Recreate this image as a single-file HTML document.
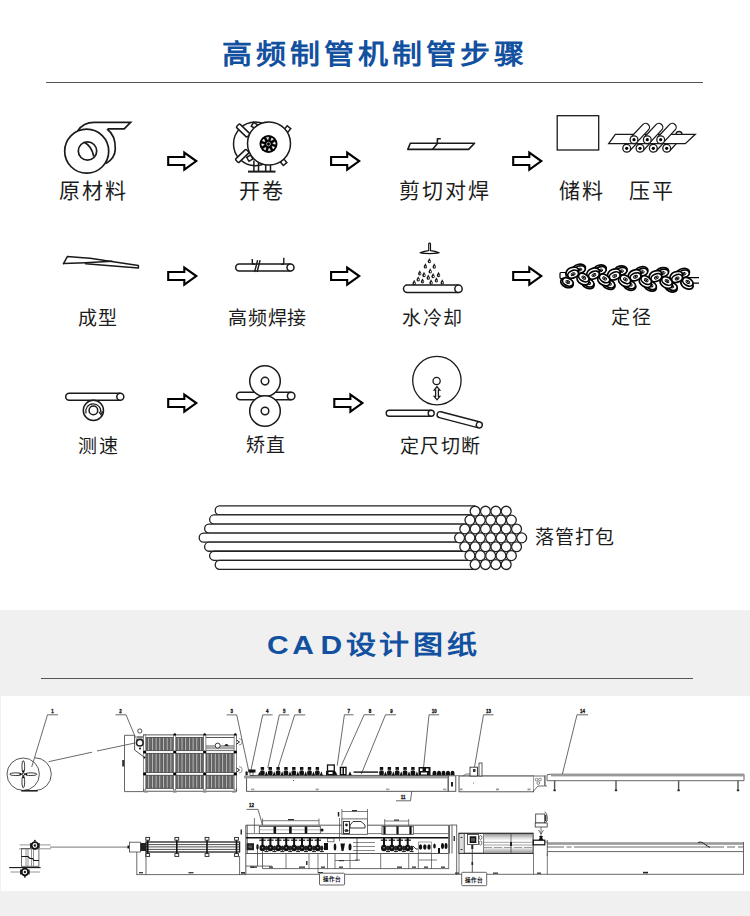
<!DOCTYPE html>
<html lang="zh-CN"><head><meta charset="utf-8">
<style>
html,body{margin:0;padding:0;}
body{width:750px;height:916px;position:relative;overflow:hidden;background:#fff;font-family:"Liberation Sans",sans-serif;color:#222;}
.t{position:absolute;white-space:nowrap;line-height:1;}
.l1{font-size:21px;color:#1c1c1c;letter-spacing:2px;}
.l2{font-size:19px;color:#1c1c1c;letter-spacing:1.5px;}
.h1{font-size:30px;font-weight:bold;color:#1250a0;letter-spacing:4px;transform:scaleY(0.92);transform-origin:0 0;}
.h2{font-size:30px;font-weight:bold;color:#1250a0;letter-spacing:3.6px;transform:scaleY(0.87);transform-origin:0 0;}
#gray{position:absolute;left:0;top:610px;width:750px;height:306px;background:#f0f0f0;}
#cad{position:absolute;left:1px;top:696px;width:749px;height:195px;background:#fff;}
svg{position:absolute;left:0;top:0;}
</style></head><body>
<svg width="750" height="610" viewBox="0 0 750 610"><path d="M168.2,157.0 L184.3,157.0 L184.3,152.6 L196.3,161.1 L184.3,169.6 L184.3,165.0 L168.2,165.0Z" fill="#fff" stroke="#000" stroke-width="2.1" stroke-linejoin="miter" stroke-miterlimit="10"/>
<path d="M168.2,272.0 L184.3,272.0 L184.3,267.6 L196.3,276.1 L184.3,284.6 L184.3,280.0 L168.2,280.0Z" fill="#fff" stroke="#000" stroke-width="2.1" stroke-linejoin="miter" stroke-miterlimit="10"/>
<path d="M331.1,157.0 L347.2,157.0 L347.2,152.6 L359.2,161.1 L347.2,169.6 L347.2,165.0 L331.1,165.0Z" fill="#fff" stroke="#000" stroke-width="2.1" stroke-linejoin="miter" stroke-miterlimit="10"/>
<path d="M331.1,272.0 L347.2,272.0 L347.2,267.6 L359.2,276.1 L347.2,284.6 L347.2,280.0 L331.1,280.0Z" fill="#fff" stroke="#000" stroke-width="2.1" stroke-linejoin="miter" stroke-miterlimit="10"/>
<path d="M513.2,157.0 L529.3,157.0 L529.3,152.6 L541.3,161.1 L529.3,169.6 L529.3,165.0 L513.2,165.0Z" fill="#fff" stroke="#000" stroke-width="2.1" stroke-linejoin="miter" stroke-miterlimit="10"/>
<path d="M513.2,272.0 L529.3,272.0 L529.3,267.6 L541.3,276.1 L529.3,284.6 L529.3,280.0 L513.2,280.0Z" fill="#fff" stroke="#000" stroke-width="2.1" stroke-linejoin="miter" stroke-miterlimit="10"/>
<path d="M168.2,399.0 L184.3,399.0 L184.3,394.6 L196.3,403.1 L184.3,411.6 L184.3,407.0 L168.2,407.0Z" fill="#fff" stroke="#000" stroke-width="2.1" stroke-linejoin="miter" stroke-miterlimit="10"/>
<path d="M334.3,399.0 L350.4,399.0 L350.4,394.6 L362.4,403.1 L350.4,411.6 L350.4,407.0 L334.3,407.0Z" fill="#fff" stroke="#000" stroke-width="2.1" stroke-linejoin="miter" stroke-miterlimit="10"/>
<g fill="none" stroke="#1a1a1a" stroke-width="1.7"><path d="M77.6,131 C82,124.5 87,122.4 94,122.4 L130.6,122.4 L124.2,128.8 L108,128.8"/><path d="M107,129 C112.5,133 115.5,141 115.3,149 C115.1,155 112,160 106,163.5"/><circle cx="86.7" cy="151.2" r="22" fill="#fff"/><circle cx="87.5" cy="151" r="9.2"/><path d="M84.2,142.3 C89.5,145 92.5,150 93.8,156.5"/></g>
<g stroke="#1a1a1a" stroke-width="1.5" fill="#fff"><circle cx="255.3" cy="143.9" r="21.8"/><rect x="-7.5" y="-2.4" width="15" height="4.8" rx="1.2" transform="translate(243.1,130.5) rotate(44)"/><rect x="-7.5" y="-2.4" width="15" height="4.8" rx="1.2" transform="translate(242.2,156) rotate(-44)"/><rect x="-2.3" y="-2.3" width="4.6" height="4.6" transform="translate(254.4,125.5) rotate(30)"/><rect x="-2.3" y="-2.3" width="4.6" height="4.6" transform="translate(249.8,158.2) rotate(-30)"/><rect x="-2.3" y="-2.3" width="4.6" height="4.6" transform="translate(287.5,129) rotate(40)"/><rect x="-2.3" y="-2.3" width="4.6" height="4.6" transform="translate(283.6,162.3) rotate(-40)"/><path d="M253.9,160.5 V171 M258.5,162.5 V171 M265.7,164.5 V171 M270.5,164.5 V171" fill="none"/><circle cx="269" cy="143.5" r="21.5"/><path d="M248,171.6 H275.5" stroke-width="2"/></g>
<g><circle cx="268.5" cy="144" r="9" fill="#000"/><path d="M272.76,143.40 L275.29,144.21 L274.97,141.93Z" fill="#fff" stroke="#fff" stroke-width="0.5" stroke-linejoin="round"/><path d="M271.93,146.59 L273.16,148.95 L274.54,147.11Z" fill="#fff" stroke="#fff" stroke-width="0.5" stroke-linejoin="round"/><path d="M269.10,148.26 L268.29,150.79 L270.57,150.47Z" fill="#fff" stroke="#fff" stroke-width="0.5" stroke-linejoin="round"/><path d="M265.91,147.43 L263.55,148.66 L265.39,150.04Z" fill="#fff" stroke="#fff" stroke-width="0.5" stroke-linejoin="round"/><path d="M264.24,144.60 L261.71,143.79 L262.03,146.07Z" fill="#fff" stroke="#fff" stroke-width="0.5" stroke-linejoin="round"/><path d="M265.07,141.41 L263.84,139.05 L262.46,140.89Z" fill="#fff" stroke="#fff" stroke-width="0.5" stroke-linejoin="round"/><path d="M267.90,139.74 L268.71,137.21 L266.43,137.53Z" fill="#fff" stroke="#fff" stroke-width="0.5" stroke-linejoin="round"/><path d="M271.09,140.57 L273.45,139.34 L271.61,137.96Z" fill="#fff" stroke="#fff" stroke-width="0.5" stroke-linejoin="round"/><circle cx="268.5" cy="144" r="1.9" fill="none" stroke="#bbb" stroke-width="0.8"/></g>
<g fill="none" stroke="#1a1a1a" stroke-width="1.6" stroke-linejoin="round"><path d="M410.3,143.2 L474.6,143.2 L468.6,149.4 L407.8,149.4 Z"/><path d="M432.5,149.4 L437.4,143.6 V138.8 H440.8"/></g>
<rect x="557.2" y="115.7" width="41.5" height="34.3" fill="none" stroke="#1a1a1a" stroke-width="1.3"/>
<g stroke="#1a1a1a" stroke-width="1.3"><circle cx="679" cy="134.5" r="3" fill="#fff"/><path d="M629.55,150.96 L636.37,143.65 A3.9,3.9 0 0 0 630.67,138.33 L623.85,145.64 Z" fill="#fff"/><circle cx="626.70" cy="148.30" r="3.9" fill="#fff"/><circle cx="626.70" cy="148.30" r="1.6" fill="#000" stroke="none"/><path d="M642.85,150.96 L649.67,143.65 A3.9,3.9 0 0 0 643.97,138.33 L637.15,145.64 Z" fill="#fff"/><circle cx="640.00" cy="148.30" r="3.9" fill="#fff"/><circle cx="640.00" cy="148.30" r="1.6" fill="#000" stroke="none"/><path d="M656.15,150.96 L662.97,143.65 A3.9,3.9 0 0 0 657.27,138.33 L650.45,145.64 Z" fill="#fff"/><circle cx="653.30" cy="148.30" r="3.9" fill="#fff"/><circle cx="653.30" cy="148.30" r="1.6" fill="#000" stroke="none"/><path d="M669.55,150.96 L676.37,143.65 A3.9,3.9 0 0 0 670.67,138.33 L663.85,145.64 Z" fill="#fff"/><circle cx="666.70" cy="148.30" r="3.9" fill="#fff"/><circle cx="666.70" cy="148.30" r="1.6" fill="#000" stroke="none"/><path d="M615.3,134.3 L695.3,134.3 L685.3,143.7 L608.7,143.7 Z" fill="#fff"/><path d="M636.85,142.36 L648.45,129.93 A3.9,3.9 0 0 0 642.74,124.61 L631.15,137.04 Z" fill="#fff"/><circle cx="634.00" cy="139.70" r="3.9" fill="#fff"/><circle cx="634.00" cy="139.70" r="1.6" fill="#000" stroke="none"/><path d="M650.15,142.36 L661.75,129.93 A3.9,3.9 0 0 0 656.04,124.61 L644.45,137.04 Z" fill="#fff"/><circle cx="647.30" cy="139.70" r="3.9" fill="#fff"/><circle cx="647.30" cy="139.70" r="1.6" fill="#000" stroke="none"/><path d="M663.55,142.36 L675.15,129.93 A3.9,3.9 0 0 0 669.44,124.61 L657.85,137.04 Z" fill="#fff"/><circle cx="660.70" cy="139.70" r="3.9" fill="#fff"/><circle cx="660.70" cy="139.70" r="1.6" fill="#000" stroke="none"/></g>
<g fill="none" stroke="#1a1a1a" stroke-width="1.5" stroke-linejoin="round" stroke-linecap="round"><path d="M63.5,263.6 L67.5,256.4 C85,257.5 95,258.3 105,260.5 L138.4,265.5 L138.4,268 L85.6,263.8"/><path d="M63.5,263.6 L85.6,262.7 L112,261.2"/></g>
<path d="M290.50,264.10 H239.20 A3.5,3.5 0 0 0 239.20,271.10 H290.50" fill="#fff" stroke="#1a1a1a" stroke-width="1.5"/><circle cx="290.50" cy="267.60" r="3.50" fill="#fff" stroke="#1a1a1a" stroke-width="1.5"/>
<g fill="none" stroke="#1a1a1a" stroke-width="1.4"><path d="M252.3,259 V262.8 C252.3,264 253.5,264.3 254.8,264.3 M254.6,272 L257.6,260.2 M257.1,272 L260.1,260.2"/><path d="M283.8,257.8 V263 C283.8,264.5 282,264.5 281.5,264"/></g>
<g fill="#1a1a1a" stroke="none"><path d="M428.7,250.6 V244 C428.7,242.9 430.5,242.9 430.5,244 V250.6 C434,251 437,251.8 439.2,252.7 C433,253.9 426,253.9 420,252.7 C422.5,251.8 425.5,251 428.7,250.6 Z" fill="#fff" stroke="#111" stroke-width="1.15" stroke-linejoin="round"/><path d="M421,252.8 C426,253.6 433,253.6 438.4,252.8" fill="none" stroke="#111" stroke-width="1.1"/><path d="M429.35,258.00 C429.95,259.60 431.05,260.60 431.05,261.60 A1.7,1.7 0 0 1 427.65,261.60 C427.65,260.60 428.75,259.60 429.35,258.00Z"/><ellipse cx="429.75" cy="261.50" rx="0.55" ry="0.8" fill="#fff"/><path d="M425.40,263.33 C426.00,264.93 427.10,265.93 427.10,266.93 A1.7,1.7 0 0 1 423.70,266.93 C423.70,265.93 424.80,264.93 425.40,263.33Z"/><ellipse cx="425.80" cy="266.83" rx="0.55" ry="0.8" fill="#fff"/><path d="M434.25,263.33 C434.85,264.93 435.95,265.93 435.95,266.93 A1.7,1.7 0 0 1 432.55,266.93 C432.55,265.93 433.65,264.93 434.25,263.33Z"/><ellipse cx="434.65" cy="266.83" rx="0.55" ry="0.8" fill="#fff"/><path d="M430.20,268.13 C430.80,269.73 431.90,270.73 431.90,271.73 A1.7,1.7 0 0 1 428.50,271.73 C428.50,270.73 429.60,269.73 430.20,268.13Z"/><ellipse cx="430.60" cy="271.63" rx="0.55" ry="0.8" fill="#fff"/><path d="M419.75,270.27 C420.35,271.87 421.45,272.87 421.45,273.87 A1.7,1.7 0 0 1 418.05,273.87 C418.05,272.87 419.15,271.87 419.75,270.27Z"/><ellipse cx="420.15" cy="273.77" rx="0.55" ry="0.8" fill="#fff"/><path d="M424.01,271.87 C424.61,273.47 425.71,274.47 425.71,275.47 A1.7,1.7 0 0 1 422.31,275.47 C422.31,274.47 423.41,273.47 424.01,271.87Z"/><ellipse cx="424.41" cy="275.37" rx="0.55" ry="0.8" fill="#fff"/><path d="M438.52,271.87 C439.12,273.47 440.22,274.47 440.22,275.47 A1.7,1.7 0 0 1 436.82,275.47 C436.82,274.47 437.92,273.47 438.52,271.87Z"/><ellipse cx="438.92" cy="275.37" rx="0.55" ry="0.8" fill="#fff"/><path d="M428.28,274.53 C428.88,276.13 429.98,277.13 429.98,278.13 A1.7,1.7 0 0 1 426.58,278.13 C426.58,277.13 427.68,276.13 428.28,274.53Z"/><ellipse cx="428.68" cy="278.03" rx="0.55" ry="0.8" fill="#fff"/><path d="M433.08,272.93 C433.68,274.53 434.78,275.53 434.78,276.53 A1.7,1.7 0 0 1 431.38,276.53 C431.38,275.53 432.48,274.53 433.08,272.93Z"/><ellipse cx="433.48" cy="276.43" rx="0.55" ry="0.8" fill="#fff"/><path d="M418.25,276.13 C418.85,277.73 419.95,278.73 419.95,279.73 A1.7,1.7 0 0 1 416.55,279.73 C416.55,278.73 417.65,277.73 418.25,276.13Z"/><ellipse cx="418.65" cy="279.63" rx="0.55" ry="0.8" fill="#fff"/><path d="M422.52,278.27 C423.12,279.87 424.22,280.87 424.22,281.87 A1.7,1.7 0 0 1 420.82,281.87 C420.82,280.87 421.92,279.87 422.52,278.27Z"/><ellipse cx="422.92" cy="281.77" rx="0.55" ry="0.8" fill="#fff"/><path d="M436.39,277.20 C436.99,278.80 438.09,279.80 438.09,280.80 A1.7,1.7 0 0 1 434.69,280.80 C434.69,279.80 435.79,278.80 436.39,277.20Z"/><ellipse cx="436.79" cy="280.70" rx="0.55" ry="0.8" fill="#fff"/><path d="M431.05,279.33 C431.65,280.93 432.75,281.93 432.75,282.93 A1.7,1.7 0 0 1 429.35,282.93 C429.35,281.93 430.45,280.93 431.05,279.33Z"/><ellipse cx="431.45" cy="282.83" rx="0.55" ry="0.8" fill="#fff"/><path d="M414.20,279.87 C414.80,281.47 415.90,282.47 415.90,283.47 A1.7,1.7 0 0 1 412.50,283.47 C412.50,282.47 413.60,281.47 414.20,279.87Z"/><ellipse cx="414.60" cy="283.37" rx="0.55" ry="0.8" fill="#fff"/><path d="M442.25,279.33 C442.85,280.93 443.95,281.93 443.95,282.93 A1.7,1.7 0 0 1 440.55,282.93 C440.55,281.93 441.65,280.93 442.25,279.33Z"/><ellipse cx="442.65" cy="282.83" rx="0.55" ry="0.8" fill="#fff"/></g>
<path d="M458.50,285.10 H407.20 A3.7,3.7 0 0 0 407.20,292.50 H458.50" fill="#fff" stroke="#1a1a1a" stroke-width="1.5"/><circle cx="458.50" cy="288.80" r="3.70" fill="#fff" stroke="#1a1a1a" stroke-width="1.5"/>
<g stroke="#000" stroke-width="1.7" fill="#fff"><path d="M688,277.6 H699 M688,283.2 H699" stroke-width="1.3"/><rect x="560" y="272.5" width="6" height="6" rx="1" stroke-width="1.2"/><ellipse cx="567.00" cy="282.90" rx="6.6" ry="4.4" transform="rotate(25 567.00 282.90)"/><ellipse cx="567.80" cy="282.00" rx="5.6" ry="3.7" transform="rotate(25 567.80 282.00)"/><ellipse cx="567.80" cy="282.00" rx="2.1" ry="1.35" transform="rotate(25 567.80 282.00)" stroke-width="0.9"/><ellipse cx="567.80" cy="282.00" rx="1.2" ry="0.8" fill="#000" stroke="none" transform="rotate(25 567.80 282.00)"/><ellipse cx="579.00" cy="268.70" rx="6.6" ry="4.4" transform="rotate(-15 579.00 268.70)"/><ellipse cx="579.80" cy="269.60" rx="5.6" ry="3.7" transform="rotate(-15 579.80 269.60)"/><ellipse cx="579.80" cy="269.60" rx="2.1" ry="1.35" transform="rotate(-15 579.80 269.60)" stroke-width="0.9"/><ellipse cx="579.80" cy="269.60" rx="1.2" ry="0.8" fill="#000" stroke="none" transform="rotate(-15 579.80 269.60)"/><ellipse cx="587.80" cy="283.75" rx="6.6" ry="4.4" transform="rotate(25 587.80 283.75)"/><ellipse cx="588.60" cy="282.85" rx="5.6" ry="3.7" transform="rotate(25 588.60 282.85)"/><ellipse cx="588.60" cy="282.85" rx="2.1" ry="1.35" transform="rotate(25 588.60 282.85)" stroke-width="0.9"/><ellipse cx="588.60" cy="282.85" rx="1.2" ry="0.8" fill="#000" stroke="none" transform="rotate(25 588.60 282.85)"/><ellipse cx="599.80" cy="269.55" rx="6.6" ry="4.4" transform="rotate(-15 599.80 269.55)"/><ellipse cx="600.60" cy="270.45" rx="5.6" ry="3.7" transform="rotate(-15 600.60 270.45)"/><ellipse cx="600.60" cy="270.45" rx="2.1" ry="1.35" transform="rotate(-15 600.60 270.45)" stroke-width="0.9"/><ellipse cx="600.60" cy="270.45" rx="1.2" ry="0.8" fill="#000" stroke="none" transform="rotate(-15 600.60 270.45)"/><ellipse cx="608.60" cy="284.61" rx="6.6" ry="4.4" transform="rotate(25 608.60 284.61)"/><ellipse cx="609.40" cy="283.71" rx="5.6" ry="3.7" transform="rotate(25 609.40 283.71)"/><ellipse cx="609.40" cy="283.71" rx="2.1" ry="1.35" transform="rotate(25 609.40 283.71)" stroke-width="0.9"/><ellipse cx="609.40" cy="283.71" rx="1.2" ry="0.8" fill="#000" stroke="none" transform="rotate(25 609.40 283.71)"/><ellipse cx="620.60" cy="270.41" rx="6.6" ry="4.4" transform="rotate(-15 620.60 270.41)"/><ellipse cx="621.40" cy="271.31" rx="5.6" ry="3.7" transform="rotate(-15 621.40 271.31)"/><ellipse cx="621.40" cy="271.31" rx="2.1" ry="1.35" transform="rotate(-15 621.40 271.31)" stroke-width="0.9"/><ellipse cx="621.40" cy="271.31" rx="1.2" ry="0.8" fill="#000" stroke="none" transform="rotate(-15 621.40 271.31)"/><ellipse cx="629.40" cy="285.46" rx="6.6" ry="4.4" transform="rotate(25 629.40 285.46)"/><ellipse cx="630.20" cy="284.56" rx="5.6" ry="3.7" transform="rotate(25 630.20 284.56)"/><ellipse cx="630.20" cy="284.56" rx="2.1" ry="1.35" transform="rotate(25 630.20 284.56)" stroke-width="0.9"/><ellipse cx="630.20" cy="284.56" rx="1.2" ry="0.8" fill="#000" stroke="none" transform="rotate(25 630.20 284.56)"/><ellipse cx="641.40" cy="271.26" rx="6.6" ry="4.4" transform="rotate(-15 641.40 271.26)"/><ellipse cx="642.20" cy="272.16" rx="5.6" ry="3.7" transform="rotate(-15 642.20 272.16)"/><ellipse cx="642.20" cy="272.16" rx="2.1" ry="1.35" transform="rotate(-15 642.20 272.16)" stroke-width="0.9"/><ellipse cx="642.20" cy="272.16" rx="1.2" ry="0.8" fill="#000" stroke="none" transform="rotate(-15 642.20 272.16)"/><ellipse cx="650.20" cy="286.31" rx="6.6" ry="4.4" transform="rotate(25 650.20 286.31)"/><ellipse cx="651.00" cy="285.41" rx="5.6" ry="3.7" transform="rotate(25 651.00 285.41)"/><ellipse cx="651.00" cy="285.41" rx="2.1" ry="1.35" transform="rotate(25 651.00 285.41)" stroke-width="0.9"/><ellipse cx="651.00" cy="285.41" rx="1.2" ry="0.8" fill="#000" stroke="none" transform="rotate(25 651.00 285.41)"/><ellipse cx="662.20" cy="272.11" rx="6.6" ry="4.4" transform="rotate(-15 662.20 272.11)"/><ellipse cx="663.00" cy="273.01" rx="5.6" ry="3.7" transform="rotate(-15 663.00 273.01)"/><ellipse cx="663.00" cy="273.01" rx="2.1" ry="1.35" transform="rotate(-15 663.00 273.01)" stroke-width="0.9"/><ellipse cx="663.00" cy="273.01" rx="1.2" ry="0.8" fill="#000" stroke="none" transform="rotate(-15 663.00 273.01)"/><ellipse cx="671.00" cy="287.16" rx="6.6" ry="4.4" transform="rotate(25 671.00 287.16)"/><ellipse cx="671.80" cy="286.26" rx="5.6" ry="3.7" transform="rotate(25 671.80 286.26)"/><ellipse cx="671.80" cy="286.26" rx="2.1" ry="1.35" transform="rotate(25 671.80 286.26)" stroke-width="0.9"/><ellipse cx="671.80" cy="286.26" rx="1.2" ry="0.8" fill="#000" stroke="none" transform="rotate(25 671.80 286.26)"/><ellipse cx="683.00" cy="272.96" rx="6.6" ry="4.4" transform="rotate(-15 683.00 272.96)"/><ellipse cx="683.80" cy="273.86" rx="5.6" ry="3.7" transform="rotate(-15 683.80 273.86)"/><ellipse cx="683.80" cy="273.86" rx="2.1" ry="1.35" transform="rotate(-15 683.80 273.86)" stroke-width="0.9"/><ellipse cx="683.80" cy="273.86" rx="1.2" ry="0.8" fill="#000" stroke="none" transform="rotate(-15 683.80 273.86)"/><ellipse cx="572.30" cy="271.90" rx="6.6" ry="4.4" transform="rotate(-22 572.30 271.90)"/><ellipse cx="573.10" cy="274.20" rx="5.6" ry="3.7" transform="rotate(-22 573.10 274.20)"/><ellipse cx="573.10" cy="274.20" rx="2.1" ry="1.35" transform="rotate(-22 573.10 274.20)" stroke-width="0.9"/><ellipse cx="573.10" cy="274.20" rx="1.2" ry="0.8" fill="#000" stroke="none" transform="rotate(-22 573.10 274.20)"/><ellipse cx="583.00" cy="279.90" rx="6.6" ry="4.4" transform="rotate(30 583.00 279.90)"/><ellipse cx="583.80" cy="277.60" rx="5.6" ry="3.7" transform="rotate(30 583.80 277.60)"/><ellipse cx="583.80" cy="277.60" rx="2.1" ry="1.35" transform="rotate(30 583.80 277.60)" stroke-width="0.9"/><ellipse cx="583.80" cy="277.60" rx="1.2" ry="0.8" fill="#000" stroke="none" transform="rotate(30 583.80 277.60)"/><ellipse cx="593.10" cy="272.75" rx="6.6" ry="4.4" transform="rotate(-22 593.10 272.75)"/><ellipse cx="593.90" cy="275.05" rx="5.6" ry="3.7" transform="rotate(-22 593.90 275.05)"/><ellipse cx="593.90" cy="275.05" rx="2.1" ry="1.35" transform="rotate(-22 593.90 275.05)" stroke-width="0.9"/><ellipse cx="593.90" cy="275.05" rx="1.2" ry="0.8" fill="#000" stroke="none" transform="rotate(-22 593.90 275.05)"/><ellipse cx="603.80" cy="280.75" rx="6.6" ry="4.4" transform="rotate(30 603.80 280.75)"/><ellipse cx="604.60" cy="278.45" rx="5.6" ry="3.7" transform="rotate(30 604.60 278.45)"/><ellipse cx="604.60" cy="278.45" rx="2.1" ry="1.35" transform="rotate(30 604.60 278.45)" stroke-width="0.9"/><ellipse cx="604.60" cy="278.45" rx="1.2" ry="0.8" fill="#000" stroke="none" transform="rotate(30 604.60 278.45)"/><ellipse cx="613.90" cy="273.61" rx="6.6" ry="4.4" transform="rotate(-22 613.90 273.61)"/><ellipse cx="614.70" cy="275.91" rx="5.6" ry="3.7" transform="rotate(-22 614.70 275.91)"/><ellipse cx="614.70" cy="275.91" rx="2.1" ry="1.35" transform="rotate(-22 614.70 275.91)" stroke-width="0.9"/><ellipse cx="614.70" cy="275.91" rx="1.2" ry="0.8" fill="#000" stroke="none" transform="rotate(-22 614.70 275.91)"/><ellipse cx="624.60" cy="281.61" rx="6.6" ry="4.4" transform="rotate(30 624.60 281.61)"/><ellipse cx="625.40" cy="279.31" rx="5.6" ry="3.7" transform="rotate(30 625.40 279.31)"/><ellipse cx="625.40" cy="279.31" rx="2.1" ry="1.35" transform="rotate(30 625.40 279.31)" stroke-width="0.9"/><ellipse cx="625.40" cy="279.31" rx="1.2" ry="0.8" fill="#000" stroke="none" transform="rotate(30 625.40 279.31)"/><ellipse cx="634.70" cy="274.46" rx="6.6" ry="4.4" transform="rotate(-22 634.70 274.46)"/><ellipse cx="635.50" cy="276.76" rx="5.6" ry="3.7" transform="rotate(-22 635.50 276.76)"/><ellipse cx="635.50" cy="276.76" rx="2.1" ry="1.35" transform="rotate(-22 635.50 276.76)" stroke-width="0.9"/><ellipse cx="635.50" cy="276.76" rx="1.2" ry="0.8" fill="#000" stroke="none" transform="rotate(-22 635.50 276.76)"/><ellipse cx="645.40" cy="282.46" rx="6.6" ry="4.4" transform="rotate(30 645.40 282.46)"/><ellipse cx="646.20" cy="280.16" rx="5.6" ry="3.7" transform="rotate(30 646.20 280.16)"/><ellipse cx="646.20" cy="280.16" rx="2.1" ry="1.35" transform="rotate(30 646.20 280.16)" stroke-width="0.9"/><ellipse cx="646.20" cy="280.16" rx="1.2" ry="0.8" fill="#000" stroke="none" transform="rotate(30 646.20 280.16)"/><ellipse cx="655.50" cy="275.31" rx="6.6" ry="4.4" transform="rotate(-22 655.50 275.31)"/><ellipse cx="656.30" cy="277.61" rx="5.6" ry="3.7" transform="rotate(-22 656.30 277.61)"/><ellipse cx="656.30" cy="277.61" rx="2.1" ry="1.35" transform="rotate(-22 656.30 277.61)" stroke-width="0.9"/><ellipse cx="656.30" cy="277.61" rx="1.2" ry="0.8" fill="#000" stroke="none" transform="rotate(-22 656.30 277.61)"/><ellipse cx="666.20" cy="283.31" rx="6.6" ry="4.4" transform="rotate(30 666.20 283.31)"/><ellipse cx="667.00" cy="281.01" rx="5.6" ry="3.7" transform="rotate(30 667.00 281.01)"/><ellipse cx="667.00" cy="281.01" rx="2.1" ry="1.35" transform="rotate(30 667.00 281.01)" stroke-width="0.9"/><ellipse cx="667.00" cy="281.01" rx="1.2" ry="0.8" fill="#000" stroke="none" transform="rotate(30 667.00 281.01)"/><ellipse cx="676.30" cy="276.16" rx="6.6" ry="4.4" transform="rotate(-22 676.30 276.16)"/><ellipse cx="677.10" cy="278.46" rx="5.6" ry="3.7" transform="rotate(-22 677.10 278.46)"/><ellipse cx="677.10" cy="278.46" rx="2.1" ry="1.35" transform="rotate(-22 677.10 278.46)" stroke-width="0.9"/><ellipse cx="677.10" cy="278.46" rx="1.2" ry="0.8" fill="#000" stroke="none" transform="rotate(-22 677.10 278.46)"/><ellipse cx="687.00" cy="284.16" rx="6.6" ry="4.4" transform="rotate(30 687.00 284.16)"/><ellipse cx="687.80" cy="281.86" rx="5.6" ry="3.7" transform="rotate(30 687.80 281.86)"/><ellipse cx="687.80" cy="281.86" rx="2.1" ry="1.35" transform="rotate(30 687.80 281.86)" stroke-width="0.9"/><ellipse cx="687.80" cy="281.86" rx="1.2" ry="0.8" fill="#000" stroke="none" transform="rotate(30 687.80 281.86)"/></g>
<path d="M120.30,393.30 H69.20 A3.5,3.5 0 0 0 69.20,400.30 H120.30" fill="#fff" stroke="#1a1a1a" stroke-width="1.5"/><circle cx="120.30" cy="396.80" r="3.50" fill="#fff" stroke="#1a1a1a" stroke-width="1.5"/>
<g fill="#fff" stroke="#1a1a1a" stroke-width="1.5"><circle cx="93.4" cy="410.4" r="10.1"/><circle cx="93.4" cy="410.4" r="4.3"/><path d="M86,413.5 A7.6,7.6 0 1 1 100.8,412.6" fill="none" stroke-width="1.2"/><path d="M99,411.8 L101,414.8 L102.5,411.2" fill="none" stroke-width="1.2"/></g>
<path d="M291.15,392.25 H240.25 A3.75,3.75 0 0 0 240.25,399.75 H291.15" fill="#fff" stroke="#1a1a1a" stroke-width="1.5"/><circle cx="291.15" cy="396.00" r="3.75" fill="#fff" stroke="#1a1a1a" stroke-width="1.5"/>
<g fill="#fff" stroke="#1a1a1a" stroke-width="1.5"><circle cx="265" cy="381.1" r="15.3"/><circle cx="265" cy="381.1" r="3.8"/><circle cx="265" cy="411" r="15.3"/><circle cx="265" cy="411" r="3.8"/></g>
<g fill="#fff" stroke="#1a1a1a" stroke-width="1.3"><circle cx="436.9" cy="380.6" r="24.2"/><circle cx="436.6" cy="381" r="3.6"/><path d="M437,386.6 L439.8,390.2 H438.4 V396.3 H439.8 L437,399.8 L434.2,396.3 H435.6 V390.2 H434.2 Z" stroke-width="1.3"/></g>
<path d="M431.20,410.20 H389.20 A3.0,3.0 0 0 0 389.20,416.20 H431.20" fill="#fff" stroke="#1a1a1a" stroke-width="1.4"/><circle cx="431.20" cy="413.20" r="3.00" fill="#fff" stroke="#1a1a1a" stroke-width="1.4"/>
<g transform="translate(437.2,413.9) rotate(14.7)"><path d="M43.50,-3.00 H3.00 A3.0,3.0 0 0 0 3.00,3.00 H43.50" fill="#fff" stroke="#1a1a1a" stroke-width="1.4"/><circle cx="43.50" cy="0.00" r="3.00" fill="#fff" stroke="#1a1a1a" stroke-width="1.4"/></g>
<g fill="#fff" stroke="#222" stroke-width="1.3"><path d="M475.12,505.90 H219.53 A4.54,4.54 0 0 0 219.53,514.97 H475.12" fill="#fff"/><path d="M469.95,514.97 H213.94 A4.54,4.54 0 0 0 213.94,524.04 H469.95" fill="#fff"/><path d="M464.78,524.04 H208.94 A4.54,4.54 0 0 0 208.94,533.11 H464.78" fill="#fff"/><path d="M459.60,533.11 H203.53 A4.54,4.54 0 0 0 203.53,542.18 H459.60" fill="#fff"/><path d="M464.78,542.18 H208.94 A4.54,4.54 0 0 0 208.94,551.25 H464.78" fill="#fff"/><path d="M469.95,551.25 H213.94 A4.54,4.54 0 0 0 213.94,560.32 H469.95" fill="#fff"/><path d="M475.12,560.32 H219.53 A4.54,4.54 0 0 0 219.53,569.39 H475.12" fill="#fff"/><circle cx="475.12" cy="511.20" r="4.95"/><circle cx="485.48" cy="511.20" r="4.95"/><circle cx="495.82" cy="511.20" r="4.95"/><circle cx="506.18" cy="511.20" r="4.95"/><circle cx="469.95" cy="520.09" r="4.95"/><circle cx="480.30" cy="520.09" r="4.95"/><circle cx="490.65" cy="520.09" r="4.95"/><circle cx="501.00" cy="520.09" r="4.95"/><circle cx="511.35" cy="520.09" r="4.95"/><circle cx="464.78" cy="528.98" r="4.95"/><circle cx="475.13" cy="528.98" r="4.95"/><circle cx="485.48" cy="528.98" r="4.95"/><circle cx="495.83" cy="528.98" r="4.95"/><circle cx="506.18" cy="528.98" r="4.95"/><circle cx="516.53" cy="528.98" r="4.95"/><circle cx="459.60" cy="537.87" r="4.95"/><circle cx="469.95" cy="537.87" r="4.95"/><circle cx="480.30" cy="537.87" r="4.95"/><circle cx="490.65" cy="537.87" r="4.95"/><circle cx="501.00" cy="537.87" r="4.95"/><circle cx="511.35" cy="537.87" r="4.95"/><circle cx="521.70" cy="537.87" r="4.95"/><circle cx="464.78" cy="546.76" r="4.95"/><circle cx="475.13" cy="546.76" r="4.95"/><circle cx="485.48" cy="546.76" r="4.95"/><circle cx="495.83" cy="546.76" r="4.95"/><circle cx="506.18" cy="546.76" r="4.95"/><circle cx="516.53" cy="546.76" r="4.95"/><circle cx="469.95" cy="555.65" r="4.95"/><circle cx="480.30" cy="555.65" r="4.95"/><circle cx="490.65" cy="555.65" r="4.95"/><circle cx="501.00" cy="555.65" r="4.95"/><circle cx="511.35" cy="555.65" r="4.95"/><circle cx="475.12" cy="564.54" r="4.95"/><circle cx="485.48" cy="564.54" r="4.95"/><circle cx="495.82" cy="564.54" r="4.95"/><circle cx="506.18" cy="564.54" r="4.95"/></g></svg>
<div class="t h1" style="left:222px;top:41px">高频制管机制管步骤</div>
<div style="position:absolute;left:46px;top:82px;width:657px;height:1px;background:#555"></div>

<div class="t l1" style="left:59.2px;top:179.6px">原材料</div>
<div class="t l1" style="left:239.1px;top:179.6px">开卷</div>
<div class="t l1" style="left:398.5px;top:179.6px">剪切对焊</div>
<div class="t l1" style="left:559.3px;top:179.6px">储料</div>
<div class="t l1" style="left:629.2px;top:179.6px">压平</div>
<div class="t l2" style="left:77.5px;top:308.5px">成型</div>
<div class="t l2" style="left:228px;top:308.5px;letter-spacing:0.8px">高频焊接</div>
<div class="t l2" style="left:402px;top:308.5px">水冷却</div>
<div class="t l2" style="left:611px;top:307.5px">定径</div>
<div class="t l2" style="left:78.3px;top:437px">测速</div>
<div class="t l2" style="left:245.5px;top:436.3px">矫直</div>
<div class="t l2" style="left:399.8px;top:436.5px">定尺切断</div>
<div class="t l2" style="left:534.8px;top:528px;letter-spacing:1.1px">落管打包</div>

<div id="gray"></div>
<div class="t h2" style="left:267px;top:631.5px">C<span style="letter-spacing:6.6px">A</span>D设计图纸</div>
<div style="position:absolute;left:41px;top:678px;width:652px;height:1px;background:#555"></div>
<div id="cad"></div>
<svg style="left:0;top:0" width="750" height="916" viewBox="0 0 750 916" font-family="Liberation Sans"><text transform="translate(52.4,712.7) scale(0.72,1)" font-size="6.2" font-weight="bold" font-family="Liberation Sans" text-anchor="middle" fill="#111" stroke="#111" stroke-width="0.35">1</text><path d="M47.5,714.8 H58 M47.5,714.8 L31.7,767" stroke="#444" stroke-width="0.8" fill="none"/><text transform="translate(120.5,712.7) scale(0.72,1)" font-size="6.2" font-weight="bold" font-family="Liberation Sans" text-anchor="middle" fill="#111" stroke="#111" stroke-width="0.35">2</text><path d="M115.6,714.8 H126 M126,714.8 L137,741" stroke="#444" stroke-width="0.8" fill="none"/><text transform="translate(231.7,712.7) scale(0.72,1)" font-size="6.2" font-weight="bold" font-family="Liberation Sans" text-anchor="middle" fill="#111" stroke="#111" stroke-width="0.35">3</text><path d="M226.7,714.9 H236.7 M236.7,714.9 L249,772" stroke="#444" stroke-width="0.8" fill="none"/><text transform="translate(267.2,712.7) scale(0.72,1)" font-size="6.2" font-weight="bold" font-family="Liberation Sans" text-anchor="middle" fill="#111" stroke="#111" stroke-width="0.35">4</text><path d="M262.7,714.9 H272.7 M262.7,714.9 L250.8,771" stroke="#444" stroke-width="0.8" fill="none"/><text transform="translate(284.3,712.7) scale(0.72,1)" font-size="6.2" font-weight="bold" font-family="Liberation Sans" text-anchor="middle" fill="#111" stroke="#111" stroke-width="0.35">5</text><path d="M279.3,714.9 H289.3 M279.3,714.9 L267.8,768" stroke="#444" stroke-width="0.8" fill="none"/><text transform="translate(299.8,712.7) scale(0.72,1)" font-size="6.2" font-weight="bold" font-family="Liberation Sans" text-anchor="middle" fill="#111" stroke="#111" stroke-width="0.35">6</text><path d="M294.7,714.9 H305.3 M294.7,714.9 L278,768" stroke="#444" stroke-width="0.8" fill="none"/><text transform="translate(348.7,712.7) scale(0.72,1)" font-size="6.2" font-weight="bold" font-family="Liberation Sans" text-anchor="middle" fill="#111" stroke="#111" stroke-width="0.35">7</text><path d="M344.4,714.8 H353.5 M344.4,714.8 L337.2,765.6" stroke="#444" stroke-width="0.8" fill="none"/><text transform="translate(370,712.7) scale(0.72,1)" font-size="6.2" font-weight="bold" font-family="Liberation Sans" text-anchor="middle" fill="#111" stroke="#111" stroke-width="0.35">8</text><path d="M364.1,714.8 H374.8 M364.1,714.8 L341.4,765.6" stroke="#444" stroke-width="0.8" fill="none"/><text transform="translate(391.4,712.7) scale(0.72,1)" font-size="6.2" font-weight="bold" font-family="Liberation Sans" text-anchor="middle" fill="#111" stroke="#111" stroke-width="0.35">9</text><path d="M385.5,714.8 H396.1 M385.5,714.8 L361.2,774.2" stroke="#444" stroke-width="0.8" fill="none"/><text transform="translate(434.3,712.7) scale(0.72,1)" font-size="6.2" font-weight="bold" font-family="Liberation Sans" text-anchor="middle" fill="#111" stroke="#111" stroke-width="0.35">10</text><path d="M429,714.8 H439.2 M429,714.8 L423.6,767.2" stroke="#444" stroke-width="0.8" fill="none"/><text transform="translate(403,799.0) scale(0.72,1)" font-size="6.2" font-weight="bold" font-family="Liberation Sans" text-anchor="middle" fill="#111" stroke="#111" stroke-width="0.35">11</text><path d="M396,800.8 H410.5 M410.5,800.8 L414,773.6" stroke="#444" stroke-width="0.8" fill="none"/><text transform="translate(488.5,712.7) scale(0.72,1)" font-size="6.2" font-weight="bold" font-family="Liberation Sans" text-anchor="middle" fill="#111" stroke="#111" stroke-width="0.35">13</text><path d="M483.5,714.8 H493.6 M483.5,714.8 L474,770" stroke="#444" stroke-width="0.8" fill="none"/><text transform="translate(582.6,712.7) scale(0.72,1)" font-size="6.2" font-weight="bold" font-family="Liberation Sans" text-anchor="middle" fill="#111" stroke="#111" stroke-width="0.35">14</text><path d="M577,714.8 H588 M577,714.8 L562,775.6" stroke="#444" stroke-width="0.8" fill="none"/><text transform="translate(251.5,807.2) scale(0.72,1)" font-size="6.2" font-weight="bold" font-family="Liberation Sans" text-anchor="middle" fill="#111" stroke="#111" stroke-width="0.35">12</text><path d="M246.5,809.4 H258 M258,809.4 L262.5,825" stroke="#444" stroke-width="0.8" fill="none"/><g fill="none" stroke="#444" stroke-width="0.9"><path d="M35,757.8 A16.3,16.4 0 0 1 51.3,774.2 A16.3,16.4 0 0 1 35,790.6"/><circle cx="23.2" cy="774.2" r="16.2"/><path d="M21.3,790.8 H37.7" stroke-width="1.6" stroke="#222"/><path d="M48.6,761.7 L92,752.2 M97,751 L138.3,742.3" stroke-width="0.8"/></g><g fill="#fff" stroke="#333" stroke-width="0.8"><ellipse cx="23.3" cy="766.6" rx="1.35" ry="6" transform="rotate(0 23.3 774.2)" stroke="#222" stroke-width="0.9"/><ellipse cx="23.3" cy="766.6" rx="1.35" ry="6" transform="rotate(90 23.3 774.2)" stroke="#222" stroke-width="0.9"/><ellipse cx="23.3" cy="766.6" rx="1.35" ry="6" transform="rotate(180 23.3 774.2)" stroke="#222" stroke-width="0.9"/><ellipse cx="23.3" cy="766.6" rx="1.35" ry="6" transform="rotate(270 23.3 774.2)" stroke="#222" stroke-width="0.9"/><circle cx="23.3" cy="774.2" r="1.3" fill="#fff" stroke="#000" stroke-width="0.9"/><path d="M22,770.5 H24.6 L23.3,772.5Z" fill="#000" stroke="none" transform="rotate(0 23.3 774.2)"/><path d="M22,770.5 H24.6 L23.3,772.5Z" fill="#000" stroke="none" transform="rotate(90 23.3 774.2)"/><path d="M22,770.5 H24.6 L23.3,772.5Z" fill="#000" stroke="none" transform="rotate(180 23.3 774.2)"/><path d="M22,770.5 H24.6 L23.3,772.5Z" fill="#000" stroke="none" transform="rotate(270 23.3 774.2)"/></g><g><path d="M134.6,735.3 H124.5 V791.6 H143.5" fill="none" stroke="#555" stroke-width="0.9"/><rect x="122.2" y="760" width="2" height="6.5" fill="#333"/><defs><pattern id="bars" x="144.5" y="0" width="3.7" height="10" patternUnits="userSpaceOnUse"><rect x="0" y="0" width="3.7" height="10" fill="#5a5a5a"/><rect x="0" y="0" width="0.8" height="10" fill="#d0d0d0"/><rect x="1.6" y="0" width="0.6" height="10" fill="#7c7c7c"/></pattern></defs><rect x="144.2" y="737.6" width="92.2" height="51" fill="url(#bars)"/><rect x="205.7" y="737.8" width="28.5" height="13.4" fill="#fff"/><rect x="205.7" y="745" width="28.5" height="4.3" fill="#aaa"/><circle cx="217.7" cy="745.6" r="2.5" fill="#fff" stroke="#222" stroke-width="0.9"/><path d="M224.5,746 A2,2 0 0 1 228.5,746Z" fill="#222"/><rect x="144.2" y="750.7" width="92.2" height="2.6" fill="#fff" stroke="#333" stroke-width="0.7"/><rect x="144.2" y="772.6" width="92.2" height="2.6" fill="#fff" stroke="#333" stroke-width="0.7"/><rect x="143.6" y="734.9" width="93" height="2.7" fill="#fff" stroke="#333" stroke-width="0.8"/><rect x="143.6" y="788.3" width="93" height="2.9" fill="#fff" stroke="#333" stroke-width="0.8"/><rect x="143.4" y="735" width="2.4" height="55" fill="#fff" stroke="#444" stroke-width="0.6"/><rect x="173.4" y="735" width="2.4" height="55" fill="#fff" stroke="#444" stroke-width="0.6"/><rect x="203.5" y="735" width="2.4" height="55" fill="#fff" stroke="#444" stroke-width="0.6"/><rect x="234.10000000000002" y="735" width="2.4" height="55" fill="#fff" stroke="#444" stroke-width="0.6"/><circle cx="144.6" cy="752" r="1.6" fill="#000"/><circle cx="144.6" cy="773.9" r="1.6" fill="#000"/><circle cx="174.8" cy="752" r="1.6" fill="#000"/><circle cx="174.8" cy="773.9" r="1.6" fill="#000"/><circle cx="204.7" cy="752" r="1.6" fill="#000"/><circle cx="204.7" cy="773.9" r="1.6" fill="#000"/><circle cx="235.3" cy="752" r="1.6" fill="#000"/><circle cx="235.3" cy="773.9" r="1.6" fill="#000"/><circle cx="174.8" cy="734.4" r="1.2" fill="#000"/><circle cx="204.7" cy="734.4" r="1.2" fill="#000"/><circle cx="235.3" cy="734.4" r="1.2" fill="#000"/><rect x="144.2" y="791" width="3.6" height="1.6" fill="#888"/><rect x="173.0" y="791" width="3.6" height="1.6" fill="#888"/><rect x="202.89999999999998" y="791" width="3.6" height="1.6" fill="#888"/><rect x="232.2" y="791" width="3.6" height="1.6" fill="#888"/><g fill="#fff" stroke="#222" stroke-width="0.8"><path d="M134.6,735.5 V750 L144,757"/><circle cx="139.8" cy="731" r="2.1"/><circle cx="139.8" cy="742.7" r="3.3" stroke-width="1.6"/><rect x="136.5" y="736" width="7" height="2.5" fill="#888" stroke="none"/></g><circle cx="140" cy="748.6" r="1" fill="#000"/><circle cx="144.5" cy="757.5" r="0.9" fill="#000"/><path d="M236.5,740 L239.5,742 L236.5,744.2 M236.5,768 L239.5,770 L236.5,772.2" fill="none" stroke="#222" stroke-width="1"/><path d="M239,738.6 A3.2,3.2 0 0 1 239,745 M239,766.6 A3.2,3.2 0 0 1 239,773" fill="none" stroke="#666" stroke-width="0.7"/></g><g><rect x="246.6" y="777" width="201.5" height="14.3" fill="#fff" stroke="#444" stroke-width="0.9"/><rect x="244" y="775.6" width="205.4" height="2.8" fill="#9a9a9a"/><path d="M250,775.4 H449" stroke="#222" stroke-width="0.7"/><rect x="251" y="788.5" width="3.4" height="1.8" fill="#aaa"/><rect x="315.5" y="788.5" width="3.4" height="1.8" fill="#aaa"/><rect x="386" y="788.5" width="3.4" height="1.8" fill="#aaa"/><rect x="443" y="788.5" width="3.4" height="1.8" fill="#aaa"/><circle cx="293.5" cy="780.5" r="0.6" fill="#444"/><circle cx="452" cy="781" r="0.6" fill="#444"/><rect x="245.5" y="771.5" width="2.2" height="3.8" fill="#111"/><rect x="248.5" y="769.5" width="7" height="3" fill="#111"/><rect x="250" y="772.5" width="3" height="2.8" fill="#fff" stroke="#111" stroke-width="0.6"/><rect x="260.7" y="767" width="3.4" height="3.2" fill="#111"/><rect x="261.29999999999995" y="769.6" width="2.2" height="1.2" fill="#777"/><rect x="260.09999999999997" y="770.8" width="4.6" height="4.5" rx="1.2" fill="#111"/><path d="M264.79999999999995,775.5 L266.4,771.2 L268.0,775.5Z" fill="#111"/><rect x="268.55" y="767" width="3.4" height="3.2" fill="#111"/><rect x="269.15" y="769.6" width="2.2" height="1.2" fill="#777"/><rect x="267.95" y="770.8" width="4.6" height="4.5" rx="1.2" fill="#111"/><path d="M272.65,775.5 L274.25,771.2 L275.85,775.5Z" fill="#111"/><rect x="276.4" y="767" width="3.4" height="3.2" fill="#111"/><rect x="276.99999999999994" y="769.6" width="2.2" height="1.2" fill="#777"/><rect x="275.79999999999995" y="770.8" width="4.6" height="4.5" rx="1.2" fill="#111"/><path d="M280.49999999999994,775.5 L282.09999999999997,771.2 L283.7,775.5Z" fill="#111"/><rect x="284.25" y="767" width="3.4" height="3.2" fill="#111"/><rect x="284.84999999999997" y="769.6" width="2.2" height="1.2" fill="#777"/><rect x="283.65" y="770.8" width="4.6" height="4.5" rx="1.2" fill="#111"/><path d="M288.34999999999997,775.5 L289.95,771.2 L291.55,775.5Z" fill="#111"/><rect x="292.09999999999997" y="767" width="3.4" height="3.2" fill="#111"/><rect x="292.69999999999993" y="769.6" width="2.2" height="1.2" fill="#777"/><rect x="291.49999999999994" y="770.8" width="4.6" height="4.5" rx="1.2" fill="#111"/><path d="M296.19999999999993,775.5 L297.79999999999995,771.2 L299.4,775.5Z" fill="#111"/><rect x="299.95" y="767" width="3.4" height="3.2" fill="#111"/><rect x="300.54999999999995" y="769.6" width="2.2" height="1.2" fill="#777"/><rect x="299.34999999999997" y="770.8" width="4.6" height="4.5" rx="1.2" fill="#111"/><path d="M304.04999999999995,775.5 L305.65,771.2 L307.25,775.5Z" fill="#111"/><rect x="307.8" y="767" width="3.4" height="3.2" fill="#111"/><rect x="308.4" y="769.6" width="2.2" height="1.2" fill="#777"/><rect x="307.2" y="770.8" width="4.6" height="4.5" rx="1.2" fill="#111"/><path d="M311.9,775.5 L313.5,771.2 L315.1,775.5Z" fill="#111"/><rect x="315.65" y="767" width="3.4" height="3.2" fill="#111"/><rect x="316.24999999999994" y="769.6" width="2.2" height="1.2" fill="#777"/><rect x="315.04999999999995" y="770.8" width="4.6" height="4.5" rx="1.2" fill="#111"/><path d="M319.74999999999994,775.5 L321.34999999999997,771.2 L322.95,775.5Z" fill="#111"/><path d="M258,775.3 L259.4,771.7 L260.8,775.3Z" fill="#111"/><rect x="327.5" y="765" width="6.8" height="6" fill="#fff" stroke="#111" stroke-width="1.3"/><rect x="326" y="771" width="9" height="4.3" fill="#111"/><rect x="328.5" y="772" width="4" height="2" fill="#fff"/><path d="M333.6,775.3 L335.5,771 L337.4,775.3Z" fill="#111"/><rect x="339.7" y="766.7" width="7" height="8.6" fill="#111"/><rect x="341.2" y="768" width="1.3" height="6" fill="#fff"/><rect x="344" y="768" width="1.3" height="6" fill="#fff"/><path d="M348.3,775.3 L350,771.2 L351.7,775.3Z" fill="#111"/><rect x="353.6" y="771.4" width="24.5" height="1.4" fill="#111"/><rect x="379.8" y="767" width="3.4" height="3.2" fill="#111"/><rect x="380.4" y="769.6" width="2.2" height="1.2" fill="#777"/><rect x="379.2" y="770.8" width="4.6" height="4.5" rx="1.2" fill="#111"/><path d="M383.9,775.5 L385.5,771.2 L387.1,775.5Z" fill="#111"/><rect x="387.65000000000003" y="767" width="3.4" height="3.2" fill="#111"/><rect x="388.25" y="769.6" width="2.2" height="1.2" fill="#777"/><rect x="387.05" y="770.8" width="4.6" height="4.5" rx="1.2" fill="#111"/><path d="M391.75,775.5 L393.35,771.2 L394.95000000000005,775.5Z" fill="#111"/><rect x="395.5" y="767" width="3.4" height="3.2" fill="#111"/><rect x="396.09999999999997" y="769.6" width="2.2" height="1.2" fill="#777"/><rect x="394.9" y="770.8" width="4.6" height="4.5" rx="1.2" fill="#111"/><path d="M399.59999999999997,775.5 L401.2,771.2 L402.8,775.5Z" fill="#111"/><rect x="403.35" y="767" width="3.4" height="3.2" fill="#111"/><rect x="403.95" y="769.6" width="2.2" height="1.2" fill="#777"/><rect x="402.75" y="770.8" width="4.6" height="4.5" rx="1.2" fill="#111"/><path d="M407.45,775.5 L409.05,771.2 L410.65000000000003,775.5Z" fill="#111"/><rect x="411.2" y="767" width="3.4" height="3.2" fill="#111"/><rect x="411.79999999999995" y="769.6" width="2.2" height="1.2" fill="#777"/><rect x="410.59999999999997" y="770.8" width="4.6" height="4.5" rx="1.2" fill="#111"/><path d="M415.29999999999995,775.5 L416.9,771.2 L418.5,775.5Z" fill="#111"/><rect x="418.5" y="767" width="12" height="8.3" fill="#111"/><rect x="420" y="768.5" width="2.5" height="2.5" fill="#fff"/><rect x="426" y="768.5" width="2.5" height="2.5" fill="#fff"/><rect x="421" y="772.5" width="6" height="2" fill="#fff"/><path d="M432.5,775.3 V773 A2,2.3 0 0 1 436.5,773 V775.3Z" fill="#111"/><path d="M437.0,775.3 V773 A2,2.3 0 0 1 441.0,773 V775.3Z" fill="#111"/><path d="M441.5,775.3 V773 A2,2.3 0 0 1 445.5,773 V775.3Z" fill="#111"/><path d="M446.0,775.3 V773 A2,2.3 0 0 1 450.0,773 V775.3Z" fill="#111"/><path d="M450.5,775.3 V773 A2,2.3 0 0 1 454.5,773 V775.3Z" fill="#111"/><rect x="448.3" y="775.8" width="7.5" height="15.5" fill="#fff" stroke="#444" stroke-width="0.9"/><rect x="451" y="782" width="2" height="4.5" fill="#222"/></g><g><rect x="459" y="776" width="74.6" height="15.8" fill="#fff" stroke="#444" stroke-width="0.9"/><path d="M455,775.6 H533.6" stroke="#888" stroke-width="1"/><path d="M533.6,776 H544.8 V786 H538 L533.6,791" fill="#fff" stroke="#444" stroke-width="0.8"/><circle cx="536.5" cy="779.6" r="1.4" fill="none" stroke="#444" stroke-width="0.6"/><circle cx="540" cy="779.6" r="1.4" fill="none" stroke="#444" stroke-width="0.6"/><circle cx="538.3" cy="783" r="1.4" fill="none" stroke="#444" stroke-width="0.6"/><rect x="470" y="767.2" width="7.5" height="8.8" fill="#fff" stroke="#333" stroke-width="0.9"/><rect x="473" y="769" width="2.5" height="3" fill="#333"/><rect x="479" y="763" width="3" height="13" fill="#fff" stroke="#333" stroke-width="0.8"/><path d="M463,776 L466,774 H470" stroke="#444" stroke-width="0.7" fill="none"/><rect x="459.5" y="788.5" width="3" height="1.8" fill="#999"/><rect x="496.0" y="788.5" width="3" height="1.8" fill="#999"/><rect x="527.5" y="788.5" width="3" height="1.8" fill="#999"/><circle cx="473.5" cy="783" r="0.5" fill="#444"/></g><g><path d="M547,774.8 L551,774.2 H744 V780.7 H547 Z" fill="#fff" stroke="#555" stroke-width="0.9"/><rect x="551" y="774.2" width="193" height="2.2" fill="#999"/><path d="M545,775 V786 H547" fill="none" stroke="#555" stroke-width="0.8"/><rect x="553.9" y="780.7" width="1.4" height="9.5" fill="#555"/><rect x="553.4" y="789.6" width="2.4" height="1.6" fill="#222"/><rect x="615.3" y="780.7" width="1.4" height="9.5" fill="#555"/><rect x="614.8" y="789.6" width="2.4" height="1.6" fill="#222"/><rect x="677.9" y="780.7" width="1.4" height="9.5" fill="#555"/><rect x="677.4" y="789.6" width="2.4" height="1.6" fill="#222"/><rect x="737.3" y="780.7" width="1.4" height="9.5" fill="#555"/><rect x="736.8" y="789.6" width="2.4" height="1.6" fill="#222"/></g><g stroke="#333" fill="none"><path d="M19.6,844.9 H50.7 M19,848.8 H51" stroke="#888" stroke-width="0.9"/><path d="M50,847.1 H129.5" stroke="#555" stroke-width="0.8"/><rect x="21.4" y="848.7" width="17.5" height="17.6" stroke-width="0.8" stroke="#444"/><path d="M26,849 V866 M28,849 V866 M31.5,849 V866 M33.5,849 V866" stroke="#666" stroke-width="0.7"/><path d="M21.4,856.5 H28 L30,858.5 H32.5 L34,860.5 H38.9" stroke="#111" stroke-width="1.1"/><path d="M9.2,867.6 H40.6" stroke="#111" stroke-width="1.1"/><path d="M10.5,872 H40" stroke="#888" stroke-width="0.9"/><circle cx="34.9" cy="845.5" r="3.3" stroke="#111" stroke-width="1.8" fill="#fff"/><circle cx="34.9" cy="845.5" r="1.2" fill="#222" stroke="none"/><circle cx="24.9" cy="872" r="3.3" stroke="#111" stroke-width="1.8" fill="#fff"/><circle cx="24.9" cy="872" r="1.2" fill="#222" stroke="none"/><path d="M30.8,843 V848 M39,843 V848 M20.8,869.5 V874.5 M29,869.5 V874.5" stroke="#111" stroke-width="1.3"/><circle cx="34.9" cy="840.6" r="0.9" fill="#111" stroke="none"/><circle cx="24.9" cy="876.8" r="0.9" fill="#111" stroke="none"/></g><g fill="none"><rect x="129.5" y="842.2" width="10.9" height="9.8" fill="#fff" stroke="#444" stroke-width="0.8"/><rect x="127.5" y="845.5" width="1.6" height="3" fill="#111"/><rect x="140.4" y="843" width="5.6" height="8" fill="#222"/><rect x="146" y="842" width="93.6" height="10" fill="#fff" stroke="#222" stroke-width="1.3"/><path d="M146,844.6 H239.6 M146,846.9 H239.6 M146,849.4 H239.6" stroke="#222" stroke-width="0.8"/><path d="M147.7,838.5 V856" stroke="#111" stroke-width="1.6"/><rect x="145.79999999999998" y="837.4" width="3.8" height="2.8" fill="#fff" stroke="#222" stroke-width="0.9"/><rect x="145.79999999999998" y="853.6" width="3.8" height="2.8" fill="#fff" stroke="#222" stroke-width="0.9"/><path d="M176.8,838.5 V856" stroke="#111" stroke-width="1.6"/><rect x="174.9" y="837.4" width="3.8" height="2.8" fill="#fff" stroke="#222" stroke-width="0.9"/><rect x="174.9" y="853.6" width="3.8" height="2.8" fill="#fff" stroke="#222" stroke-width="0.9"/><path d="M207,838.5 V856" stroke="#111" stroke-width="1.6"/><rect x="205.1" y="837.4" width="3.8" height="2.8" fill="#fff" stroke="#222" stroke-width="0.9"/><rect x="205.1" y="853.6" width="3.8" height="2.8" fill="#fff" stroke="#222" stroke-width="0.9"/><path d="M236.5,838.5 V856" stroke="#111" stroke-width="1.6"/><rect x="234.6" y="837.4" width="3.8" height="2.8" fill="#fff" stroke="#222" stroke-width="0.9"/><rect x="234.6" y="853.6" width="3.8" height="2.8" fill="#fff" stroke="#222" stroke-width="0.9"/><path d="M136.8,852 V875 M146,852 V875 M239.6,856 V875 M136.8,874.6 H246" stroke="#444" stroke-width="0.8"/><rect x="139" y="872" width="4" height="1.4" fill="#444"/><rect x="188.5" y="872" width="5" height="1.4" fill="#444"/><rect x="241" y="872" width="4" height="1.4" fill="#444"/></g><g fill="none"><path d="M245.8,825.2 H448.7 V853.5 M245.8,825.2 V874.7 M247.2,825.2 V853.5" stroke="#444" stroke-width="0.9"/><path d="M245.8,853.5 H448.7" stroke="#555" stroke-width="1"/><path d="M246,833.6 H448.7" stroke="#555" stroke-width="0.8"/><rect x="259.3" y="826.5" width="61" height="7" fill="#fff" stroke="#444" stroke-width="0.8"/><path d="M259.3,829.8 H320" stroke="#888" stroke-width="0.6"/><rect x="273.5" y="826.5" width="2.6" height="7" fill="#111"/><rect x="289.09999999999997" y="826.5" width="2.6" height="7" fill="#111"/><rect x="304.7" y="826.5" width="2.6" height="7" fill="#111"/><circle cx="322" cy="830" r="1.6" fill="#111"/><path d="M246,837.8 H448.3" stroke="#111" stroke-width="1.6"/><rect x="246.6" y="843.2" width="7.4" height="7" fill="#222"/><rect x="248.5" y="845.5" width="3.5" height="2.5" fill="#555"/><ellipse cx="257.5" cy="847" rx="1.2" ry="3" fill="#111"/><rect x="261.5" y="838" width="2" height="9" fill="#111"/><path d="M259.3,840.2 H265.7" stroke="#111" stroke-width="1.2"/><ellipse cx="262.5" cy="848" rx="3" ry="3.2" fill="#111"/><circle cx="262.5" cy="847.8" r="0.8" fill="#999"/><ellipse cx="266.5" cy="848.3" rx="1.6" ry="2.8" fill="#222"/><path d="M264.5,851.6 H268.5" stroke="#111" stroke-width="1"/><rect x="269.4" y="838" width="2" height="9" fill="#111"/><path d="M267.2,840.2 H273.59999999999997" stroke="#111" stroke-width="1.2"/><ellipse cx="270.4" cy="848" rx="3" ry="3.2" fill="#111"/><circle cx="270.4" cy="847.8" r="0.8" fill="#999"/><ellipse cx="274.4" cy="848.3" rx="1.6" ry="2.8" fill="#222"/><path d="M272.4,851.6 H276.4" stroke="#111" stroke-width="1"/><rect x="277.3" y="838" width="2" height="9" fill="#111"/><path d="M275.1,840.2 H281.5" stroke="#111" stroke-width="1.2"/><ellipse cx="278.3" cy="848" rx="3" ry="3.2" fill="#111"/><circle cx="278.3" cy="847.8" r="0.8" fill="#999"/><ellipse cx="282.3" cy="848.3" rx="1.6" ry="2.8" fill="#222"/><path d="M280.3,851.6 H284.3" stroke="#111" stroke-width="1"/><rect x="285.2" y="838" width="2" height="9" fill="#111"/><path d="M283.0,840.2 H289.4" stroke="#111" stroke-width="1.2"/><ellipse cx="286.2" cy="848" rx="3" ry="3.2" fill="#111"/><circle cx="286.2" cy="847.8" r="0.8" fill="#999"/><ellipse cx="290.2" cy="848.3" rx="1.6" ry="2.8" fill="#222"/><path d="M288.2,851.6 H292.2" stroke="#111" stroke-width="1"/><rect x="293.1" y="838" width="2" height="9" fill="#111"/><path d="M290.90000000000003,840.2 H297.3" stroke="#111" stroke-width="1.2"/><ellipse cx="294.1" cy="848" rx="3" ry="3.2" fill="#111"/><circle cx="294.1" cy="847.8" r="0.8" fill="#999"/><ellipse cx="298.1" cy="848.3" rx="1.6" ry="2.8" fill="#222"/><path d="M296.1,851.6 H300.1" stroke="#111" stroke-width="1"/><rect x="301.0" y="838" width="2" height="9" fill="#111"/><path d="M298.8,840.2 H305.2" stroke="#111" stroke-width="1.2"/><ellipse cx="302.0" cy="848" rx="3" ry="3.2" fill="#111"/><circle cx="302.0" cy="847.8" r="0.8" fill="#999"/><ellipse cx="306.0" cy="848.3" rx="1.6" ry="2.8" fill="#222"/><path d="M304.0,851.6 H308.0" stroke="#111" stroke-width="1"/><rect x="308.9" y="838" width="2" height="9" fill="#111"/><path d="M306.7,840.2 H313.09999999999997" stroke="#111" stroke-width="1.2"/><ellipse cx="309.9" cy="848" rx="3" ry="3.2" fill="#111"/><circle cx="309.9" cy="847.8" r="0.8" fill="#999"/><ellipse cx="313.9" cy="848.3" rx="1.6" ry="2.8" fill="#222"/><path d="M311.9,851.6 H315.9" stroke="#111" stroke-width="1"/><rect x="316.8" y="838" width="2" height="9" fill="#111"/><path d="M314.6,840.2 H321.0" stroke="#111" stroke-width="1.2"/><ellipse cx="317.8" cy="848" rx="3" ry="3.2" fill="#111"/><circle cx="317.8" cy="847.8" r="0.8" fill="#999"/><ellipse cx="321.8" cy="848.3" rx="1.6" ry="2.8" fill="#222"/><path d="M319.8,851.6 H323.8" stroke="#111" stroke-width="1"/><rect x="324" y="843" width="4" height="7" fill="#111"/><rect x="327.5" y="838.6" width="6.5" height="3.2" fill="#fff" stroke="#444" stroke-width="0.7"/><ellipse cx="335" cy="847" rx="1.3" ry="3.5" fill="#111"/><path d="M340.5,843.5 L345,843.5 L343.5,851 L341.5,851Z" fill="#111"/><ellipse cx="350" cy="847" rx="1.5" ry="3.5" fill="#111"/><path d="M353,842.5 H375 M353,846.5 H375 M353,850.5 H375" stroke="#555" stroke-width="0.7"/><path d="M357,838 V860 M355,860 H360" stroke="#333" stroke-width="0.8"/><rect x="341.9" y="818.9" width="25.6" height="15.4" fill="#fff" stroke="#444" stroke-width="0.8"/><rect x="343.5" y="821.5" width="6" height="12" fill="#fff" stroke="#222" stroke-width="0.9"/><circle cx="346.5" cy="825" r="1.4" fill="#222"/><ellipse cx="346.5" cy="830.5" rx="2" ry="1.5" fill="#333"/><path d="M350,825 L353,821.5 H361 L365,825 V828 H350Z" fill="#fff" stroke="#222" stroke-width="0.9"/><path d="M341.9,811.5 H367.5 M341.9,809 V818.9 M367.5,809 V818.9" stroke="#444" stroke-width="0.7"/><rect x="352" y="810" width="5" height="1.3" fill="#333"/><rect x="337.8" y="812" width="1.5" height="4.5" fill="#222"/><path d="M339.5,818 V841" stroke="#444" stroke-width="0.7"/><path d="M262.5,820.7 H319 M262.5,818.5 V825 M319,818.5 V825" stroke="#444" stroke-width="0.7"/><rect x="288" y="819" width="6" height="1.3" fill="#333"/><path d="M254.4,818 V833" stroke="#444" stroke-width="0.7"/><rect x="240.5" y="829.5" width="1.5" height="5" fill="#333"/><rect x="382" y="826.3" width="31.3" height="8" fill="#fff" stroke="#444" stroke-width="0.8"/><rect x="383.4" y="826.3" width="2.2" height="8" fill="#111"/><rect x="396.4" y="826.3" width="2.2" height="8" fill="#111"/><rect x="409.4" y="826.3" width="2.2" height="8" fill="#111"/><path d="M384.7,821 H408.7 M384.7,819 V826 M408.7,819 V826" stroke="#444" stroke-width="0.7"/><rect x="394" y="819.5" width="5" height="1.2" fill="#333"/><rect x="383.0" y="838" width="2" height="9" fill="#111"/><path d="M380.8,840.2 H387.2" stroke="#111" stroke-width="1.2"/><ellipse cx="384.0" cy="848" rx="3" ry="3.2" fill="#111"/><circle cx="384.0" cy="847.8" r="0.8" fill="#999"/><ellipse cx="388.0" cy="848.3" rx="1.6" ry="2.8" fill="#222"/><path d="M386.0,851.6 H390.0" stroke="#111" stroke-width="1"/><rect x="390.9" y="838" width="2" height="9" fill="#111"/><path d="M388.7,840.2 H395.09999999999997" stroke="#111" stroke-width="1.2"/><ellipse cx="391.9" cy="848" rx="3" ry="3.2" fill="#111"/><circle cx="391.9" cy="847.8" r="0.8" fill="#999"/><ellipse cx="395.9" cy="848.3" rx="1.6" ry="2.8" fill="#222"/><path d="M393.9,851.6 H397.9" stroke="#111" stroke-width="1"/><rect x="398.8" y="838" width="2" height="9" fill="#111"/><path d="M396.6,840.2 H403.0" stroke="#111" stroke-width="1.2"/><ellipse cx="399.8" cy="848" rx="3" ry="3.2" fill="#111"/><circle cx="399.8" cy="847.8" r="0.8" fill="#999"/><ellipse cx="403.8" cy="848.3" rx="1.6" ry="2.8" fill="#222"/><path d="M401.8,851.6 H405.8" stroke="#111" stroke-width="1"/><rect x="406.7" y="838" width="2" height="9" fill="#111"/><path d="M404.5,840.2 H410.9" stroke="#111" stroke-width="1.2"/><ellipse cx="407.7" cy="848" rx="3" ry="3.2" fill="#111"/><circle cx="407.7" cy="847.8" r="0.8" fill="#999"/><ellipse cx="411.7" cy="848.3" rx="1.6" ry="2.8" fill="#222"/><path d="M409.7,851.6 H413.7" stroke="#111" stroke-width="1"/><path d="M413,846 L416,849 H418" stroke="#222" stroke-width="0.9"/><rect x="418.3" y="842" width="13" height="11" fill="#fff" stroke="#666" stroke-width="0.6"/><ellipse cx="420.5" cy="847" rx="1.7" ry="2.8" fill="#111"/><ellipse cx="424.8" cy="847" rx="1.7" ry="2.8" fill="#111"/><ellipse cx="429" cy="847" rx="1.7" ry="2.8" fill="#111"/><ellipse cx="434.5" cy="846" rx="1.3" ry="2.5" fill="#111"/><rect x="438" y="848" width="2" height="5" fill="#111"/><ellipse cx="442.5" cy="846" rx="1.5" ry="3" fill="#111"/><ellipse cx="446" cy="846" rx="1.5" ry="3" fill="#111"/><path d="M449.5,825 V853.5 M452,825 V853.5 M456.7,825 V875 M449.5,825 H457" stroke="#444" stroke-width="0.8"/><rect x="453.6" y="836" width="1.4" height="5" fill="#333"/><path d="M257.5,850 V866 M262.5,850 V868.6 M246,866.1 H272 M262.5,868.6 H448.7 M245.8,874.3 H743.5" stroke="#444" stroke-width="0.8"/><path d="M286,853.5 V869" stroke="#444" stroke-width="0.7"/><path d="M309,853.5 V869" stroke="#444" stroke-width="0.7"/><path d="M327.5,853.5 V869" stroke="#444" stroke-width="0.7"/><path d="M335,853.5 V869" stroke="#444" stroke-width="0.7"/><path d="M350,853.5 V869" stroke="#444" stroke-width="0.7"/><path d="M380.7,853.5 V869" stroke="#444" stroke-width="0.7"/><path d="M408.7,853.5 V869" stroke="#444" stroke-width="0.7"/><path d="M418.3,853.5 V869" stroke="#444" stroke-width="0.7"/><path d="M431.5,853.5 V869" stroke="#444" stroke-width="0.7"/><path d="M448.7,853.5 V869" stroke="#444" stroke-width="0.7"/><path d="M318,853.5 V873 M335,860.5 H358 M419,860 H437" stroke="#444" stroke-width="0.7"/><rect x="253" y="866.5" width="4" height="1.3" fill="#333"/><rect x="269" y="866.5" width="4" height="1.3" fill="#333"/><rect x="299" y="866.5" width="6" height="1.3" fill="#333"/><rect x="321" y="866.5" width="4" height="1.3" fill="#333"/><rect x="339" y="866.5" width="4" height="1.3" fill="#333"/><rect x="397" y="866.5" width="5" height="1.3" fill="#333"/><rect x="412" y="866.5" width="4" height="1.3" fill="#333"/><rect x="424" y="866.5" width="4" height="1.3" fill="#333"/><rect x="441" y="866.5" width="4" height="1.3" fill="#333"/><rect x="251" y="866.5" width="3" height="1.3" fill="#333"/><rect x="250" y="866.5" width="3" height="1.3" fill="#333"/><rect x="241" y="872.3" width="4" height="1.3" fill="#333"/><rect x="318" y="872" width="5" height="1.3" fill="#333"/><rect x="306" y="861" width="1.5" height="4" fill="#333"/><rect x="339" y="860" width="5" height="1.2" fill="#333"/></g><rect x="319.5" y="873.2" width="25.100000000000023" height="11.799999999999955" rx="1" fill="#fff" stroke="#555" stroke-width="0.9"/><text x="332.1" y="881.4" font-size="5.6" font-weight="bold" text-anchor="middle" fill="#111">操作台</text><rect x="461.7" y="872.3" width="25.0" height="13.400000000000091" rx="1" fill="#fff" stroke="#555" stroke-width="0.9"/><text x="474.2" y="882.1" font-size="5.6" font-weight="bold" text-anchor="middle" fill="#111">操作台</text><g fill="none"><rect x="459" y="833.3" width="74" height="20" fill="#fff" stroke="#222" stroke-width="1.2"/><rect x="459.6" y="834" width="4.5" height="18.8" fill="#ddd"/><path d="M464.3,833.3 V853.3 M483.7,833.3 V853.3" stroke="#333" stroke-width="0.8"/><defs><linearGradient id="cg" x1="0" y1="0" x2="0" y2="1"><stop offset="0" stop-color="#999"/><stop offset="0.22" stop-color="#e2e2e2"/><stop offset="0.36" stop-color="#fff"/><stop offset="0.64" stop-color="#fff"/><stop offset="0.78" stop-color="#e2e2e2"/><stop offset="1" stop-color="#999"/></linearGradient></defs><rect x="484.4" y="834" width="48" height="18.8" fill="url(#cg)"/><path d="M511,833.3 V853.3" stroke="#444" stroke-width="0.8"/><path d="M484,842.3 H533 M484,845 H533" stroke="#666" stroke-width="0.6"/><path d="M484,847.5 H533" stroke="#666" stroke-width="0.6" stroke-dasharray="8,2"/><rect x="510" y="842" width="2" height="4" fill="#222"/><rect x="467.5" y="834.5" width="11" height="10" fill="#fff" stroke="#333" stroke-width="0.8"/><rect x="469.7" y="836.3" width="6.6" height="6.7" fill="#111"/><rect x="471" y="838" width="4" height="3.5" fill="#555"/><ellipse cx="480.5" cy="837.5" rx="1.4" ry="2" stroke="#444" stroke-width="0.7"/><ellipse cx="480.5" cy="843" rx="1.4" ry="2" stroke="#444" stroke-width="0.7"/><rect x="460.5" y="837" width="2" height="1" fill="#333"/><rect x="460.5" y="849" width="2" height="1" fill="#333"/><path d="M472.3,845 V872.3" stroke="#333" stroke-width="0.8"/><rect x="471.3" y="845" width="2" height="4" fill="#222"/><rect x="471.5" y="862" width="1.6" height="3" fill="#222"/><rect x="535.7" y="814" width="9" height="9" fill="#fff" stroke="#333" stroke-width="0.8"/><path d="M544.7,812 C547,813 547.5,817 547,821 L544.7,823" stroke="#333" stroke-width="0.9"/><rect x="545" y="815" width="1.3" height="6" fill="#333"/><rect x="535.2" y="823" width="12" height="4" fill="#fff" stroke="#333" stroke-width="0.8"/><path d="M541,827 V836 M538.5,830 L541,834 L543.5,830" stroke="#333" stroke-width="0.7"/><path d="M539,836 L541,840 L543,836Z" fill="#111"/><rect x="533.3" y="840.2" width="11.5" height="4.6" fill="#fff" stroke="#111" stroke-width="1.2"/><path d="M538.5,840.2 L541,835.5 L543.5,840.2Z" fill="#111"/><path d="M533.5,853.3 V874.3 M547.3,853.3 V874.3 M459,853.3 V874.3 M545,842 H548" stroke="#444" stroke-width="0.7"/><rect x="455" y="872.5" width="4" height="1.3" fill="#333"/><rect x="493" y="872.5" width="5" height="1.3" fill="#333"/><rect x="537" y="872.5" width="4" height="1.3" fill="#333"/></g><g fill="none"><rect x="547" y="842.2" width="196.5" height="2.6" fill="#999"/><path d="M547,847 H743.5" stroke="#444" stroke-width="0.8" stroke-dasharray="17,2.5,5,2.5,150,3,8,3"/><path d="M547,851.6 H743.5 M743.5,842 V874.6 M547.3,840 V856" stroke="#555" stroke-width="0.9"/><path d="M698,842.5 C701,841.5 703,842.5 705,844.5 L710,847.5" stroke="#222" stroke-width="1"/><rect x="643" y="871.8" width="5" height="1.6" fill="#222"/></g></svg>
</body></html>
